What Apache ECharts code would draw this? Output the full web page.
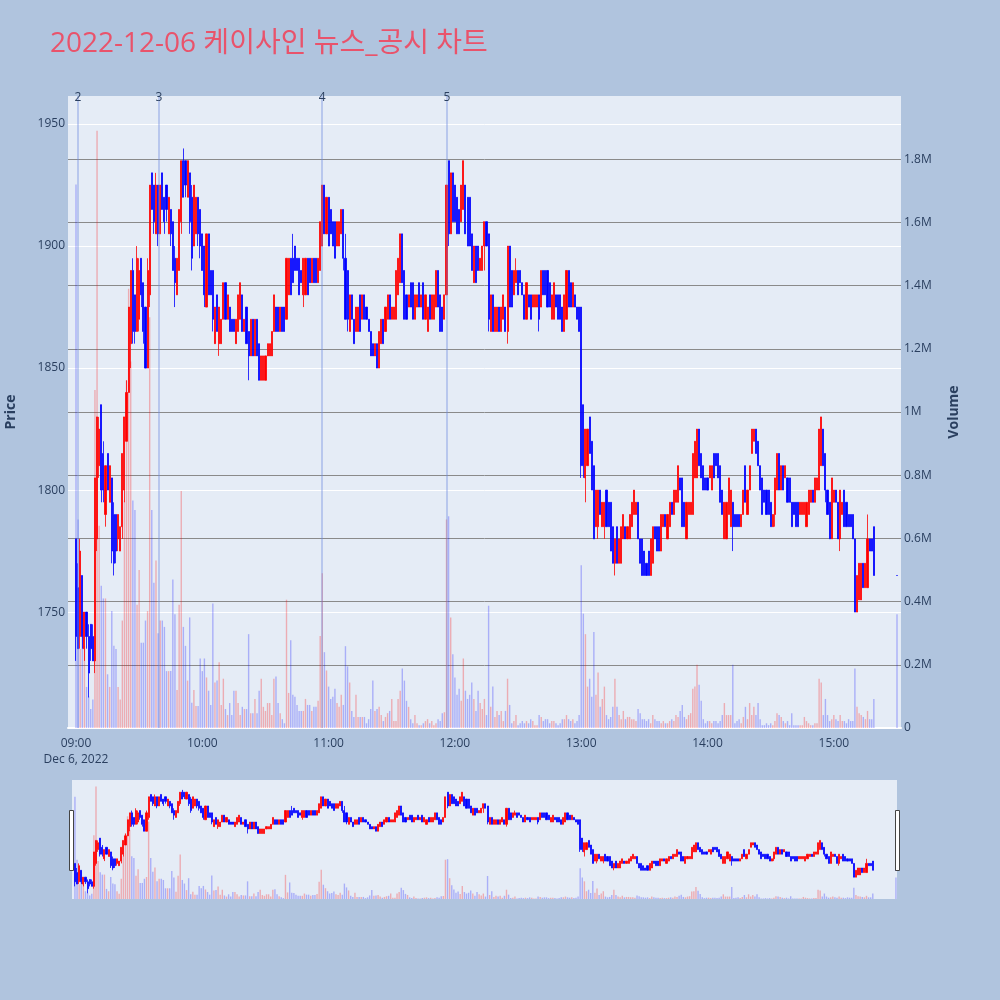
<!DOCTYPE html>
<html><head><meta charset="utf-8">
<script src="https://cdn.jsdelivr.net/npm/echarts@6/dist/echarts.min.js"></script>
<style>html,body{margin:0;padding:0;background:#b0c4de}#c{width:1000px;height:1000px}</style>
</head><body><div id="c"></div>
<script>
const chartTitle = '2022-12-06 케이사인 뉴스_공시 차트';
const dateLabel = 'Dec 6, 2022';
const xTickMinutes = [0, 60, 120, 180, 240, 300, 360];
const xTickLabels = ['09:00', '10:00', '11:00', '12:00', '13:00', '14:00', '15:00'];
const newsLabels = ['2', '3', '4', '5'];
const newsMinutes = [0.95, 39.4, 116.9, 176.2];
// minutes after 09:00 for each candle
const candleMinutes = Array.from({length: 380}, (_, i) => i).concat([390]);
// [open, close, low, high]
const candles = [
[1780,1740,1730,1780],[1760,1735,1735,1770],[1740,1775,1735,1780],[1765,1740,1735,1765],[1735,1750,1730,1750],
[1750,1740,1735,1750],[1740,1725,1715,1745],[1745,1735,1730,1745],[1740,1730,1730,1745],[1730,1805,1725,1805],
[1780,1830,1775,1830],[1810,1825,1805,1830],[1835,1800,1795,1835],[1815,1800,1795,1820],[1790,1810,1785,1810],
[1815,1800,1800,1815],[1795,1810,1795,1810],[1805,1775,1770,1805],[1790,1770,1765,1795],[1790,1775,1770,1790],
[1780,1790,1775,1790],[1775,1785,1775,1785],[1785,1815,1780,1815],[1800,1830,1795,1830],[1820,1840,1820,1845],
[1840,1875,1840,1875],[1860,1890,1850,1890],[1890,1865,1860,1895],[1880,1865,1860,1880],[1865,1895,1865,1900],
[1870,1890,1865,1895],[1895,1880,1875,1895],[1885,1865,1860,1885],[1875,1850,1850,1875],[1850,1890,1850,1895],
[1880,1925,1875,1925],[1930,1915,1915,1930],[1925,1910,1905,1925],[1905,1925,1905,1930],[1925,1905,1900,1925],
[1905,1925,1905,1925],[1930,1915,1915,1930],[1920,1910,1905,1920],[1925,1915,1910,1925],[1905,1920,1905,1920],
[1915,1905,1900,1915],[1910,1890,1890,1910],[1895,1885,1875,1900],[1880,1895,1880,1895],[1890,1915,1890,1915],
[1910,1935,1905,1935],[1935,1920,1920,1940],[1935,1925,1920,1935],[1920,1935,1920,1935],[1930,1910,1905,1930],
[1920,1895,1890,1925],[1900,1925,1900,1925],[1905,1920,1905,1920],[1920,1905,1900,1920],[1915,1900,1895,1915],
[1905,1890,1890,1905],[1900,1880,1875,1900],[1875,1905,1875,1905],[1905,1880,1880,1905],[1890,1880,1880,1890],
[1890,1870,1865,1890],[1860,1875,1860,1875],[1880,1865,1865,1880],[1860,1875,1855,1875],[1860,1870,1860,1870],
[1870,1885,1870,1885],[1885,1870,1870,1885],[1870,1880,1870,1880],[1875,1865,1865,1875],[1870,1865,1865,1870],
[1870,1865,1865,1870],[1860,1870,1860,1870],[1865,1880,1865,1880],[1870,1885,1870,1885],[1880,1865,1865,1880],
[1865,1870,1865,1870],[1875,1860,1860,1875],[1865,1855,1845,1865],[1855,1870,1855,1870],[1870,1855,1855,1870],
[1855,1870,1855,1870],[1870,1855,1855,1870],[1860,1845,1845,1860],[1845,1855,1845,1855],[1845,1855,1845,1855],
[1845,1855,1845,1855],[1855,1860,1855,1860],[1855,1860,1855,1860],[1855,1865,1855,1865],[1865,1880,1865,1880],
[1875,1865,1865,1875],[1875,1865,1865,1875],[1865,1875,1865,1875],[1875,1865,1865,1875],[1875,1865,1865,1875],
[1870,1895,1870,1895],[1880,1895,1880,1895],[1895,1880,1880,1895],[1895,1885,1885,1905],[1900,1890,1890,1900],
[1895,1890,1890,1895],[1895,1880,1880,1895],[1890,1885,1885,1890],[1880,1895,1875,1895],[1880,1895,1880,1895],
[1895,1880,1880,1895],[1895,1885,1885,1895],[1885,1895,1885,1895],[1895,1885,1885,1895],[1895,1885,1885,1895],
[1885,1895,1885,1895],[1890,1910,1890,1910],[1900,1925,1900,1925],[1925,1905,1905,1925],[1905,1920,1905,1920],
[1920,1900,1900,1920],[1915,1905,1905,1915],[1910,1900,1900,1910],[1910,1895,1895,1910],[1900,1910,1900,1910],
[1900,1910,1900,1910],[1905,1915,1905,1915],[1915,1895,1890,1915],[1895,1870,1870,1905],[1890,1870,1865,1890],
[1865,1880,1865,1880],[1880,1870,1870,1880],[1870,1860,1860,1870],[1865,1875,1865,1875],[1865,1875,1865,1875],
[1880,1865,1865,1880],[1870,1880,1870,1880],[1880,1870,1870,1880],[1875,1870,1870,1875],[1870,1865,1865,1870],
[1865,1855,1855,1865],[1860,1855,1855,1860],[1855,1860,1855,1860],[1860,1850,1850,1860],[1850,1865,1850,1865],
[1860,1870,1860,1870],[1870,1860,1860,1870],[1865,1875,1865,1875],[1870,1880,1870,1880],[1880,1870,1870,1880],
[1870,1875,1870,1875],[1870,1875,1870,1875],[1870,1890,1870,1890],[1880,1895,1880,1895],[1885,1905,1885,1905],
[1905,1885,1885,1905],[1890,1870,1870,1890],[1880,1870,1870,1880],[1875,1880,1875,1880],[1885,1875,1875,1885],
[1885,1870,1870,1885],[1870,1880,1870,1880],[1875,1880,1875,1880],[1885,1875,1875,1885],[1875,1880,1875,1880],
[1885,1870,1870,1885],[1870,1880,1870,1880],[1865,1875,1865,1875],[1880,1870,1870,1880],[1870,1880,1870,1880],
[1870,1880,1870,1880],[1875,1890,1875,1890],[1890,1875,1875,1890],[1880,1865,1865,1880],[1875,1865,1865,1875],
[1870,1880,1870,1880],[1880,1925,1880,1925],[1935,1905,1900,1935],[1905,1930,1905,1930],[1930,1910,1910,1930],
[1925,1910,1910,1925],[1920,1905,1905,1920],[1915,1905,1905,1915],[1910,1925,1910,1925],[1915,1935,1915,1935],
[1925,1905,1905,1925],[1920,1900,1900,1920],[1920,1900,1900,1920],[1905,1890,1890,1905],[1885,1900,1885,1900],
[1900,1885,1885,1900],[1900,1890,1890,1900],[1890,1895,1890,1895],[1890,1900,1890,1900],[1900,1910,1890,1910],
[1910,1900,1900,1910],[1905,1870,1865,1905],[1865,1880,1865,1880],[1880,1865,1865,1880],[1865,1875,1865,1875],
[1865,1875,1865,1875],[1875,1865,1865,1875],[1865,1875,1865,1875],[1870,1880,1870,1880],[1875,1865,1865,1875],
[1865,1900,1860,1900],[1900,1875,1875,1900],[1890,1875,1875,1890],[1880,1890,1880,1890],[1885,1890,1885,1895],
[1890,1880,1880,1890],[1890,1885,1885,1890],[1885,1880,1880,1885],[1880,1870,1870,1880],[1870,1885,1870,1885],
[1880,1875,1875,1880],[1880,1870,1870,1880],[1875,1880,1875,1880],[1875,1880,1875,1880],[1875,1880,1875,1880],
[1880,1870,1865,1880],[1875,1890,1875,1890],[1890,1880,1880,1890],[1890,1880,1880,1890],[1890,1875,1875,1890],
[1885,1875,1875,1885],[1870,1880,1870,1880],[1870,1885,1870,1885],[1880,1875,1875,1880],[1880,1870,1870,1880],
[1880,1870,1870,1880],[1875,1865,1865,1875],[1865,1880,1865,1880],[1870,1890,1870,1890],[1890,1875,1875,1890],
[1885,1875,1875,1885],[1875,1885,1875,1885],[1880,1875,1875,1880],[1875,1870,1870,1875],[1875,1865,1865,1875],
[1875,1810,1805,1875],[1835,1810,1805,1835],[1805,1825,1795,1825],[1810,1825,1810,1825],[1830,1815,1815,1830],
[1820,1800,1800,1820],[1810,1780,1780,1810],[1785,1800,1785,1800],[1785,1800,1780,1800],[1800,1790,1790,1800],
[1785,1795,1785,1795],[1785,1795,1780,1795],[1800,1785,1785,1800],[1795,1785,1785,1795],[1795,1775,1775,1795],
[1785,1770,1770,1785],[1770,1780,1765,1780],[1785,1770,1770,1785],[1770,1780,1770,1780],[1770,1785,1770,1785],
[1780,1790,1780,1790],[1785,1780,1780,1785],[1780,1785,1780,1785],[1780,1790,1780,1790],[1785,1795,1785,1795],
[1790,1800,1790,1800],[1790,1795,1790,1795],[1795,1780,1780,1795],[1780,1770,1770,1780],[1780,1765,1765,1780],
[1775,1765,1765,1775],[1770,1765,1765,1770],[1775,1765,1765,1775],[1765,1780,1765,1780],[1770,1785,1770,1785],
[1785,1780,1780,1785],[1785,1775,1775,1785],[1785,1775,1775,1785],[1775,1790,1775,1790],[1785,1790,1785,1790],
[1790,1785,1785,1790],[1780,1790,1780,1790],[1785,1795,1785,1795],[1795,1790,1790,1795],[1790,1800,1790,1800],
[1795,1800,1795,1800],[1795,1810,1795,1810],[1805,1800,1800,1805],[1805,1785,1785,1805],[1795,1785,1785,1795],
[1780,1795,1780,1795],[1790,1795,1790,1795],[1790,1795,1790,1795],[1790,1815,1790,1815],[1805,1820,1805,1820],
[1805,1825,1805,1825],[1825,1810,1810,1825],[1815,1805,1805,1815],[1810,1800,1800,1810],[1805,1800,1800,1805],
[1805,1800,1800,1805],[1805,1810,1805,1810],[1800,1810,1800,1810],[1815,1805,1805,1815],[1815,1810,1810,1815],
[1815,1805,1805,1815],[1810,1795,1795,1810],[1800,1790,1790,1800],[1780,1795,1780,1795],[1780,1795,1780,1795],
[1790,1805,1790,1805],[1785,1800,1785,1800],[1795,1785,1775,1795],[1790,1785,1785,1790],[1790,1785,1785,1790],
[1790,1785,1785,1790],[1785,1790,1785,1790],[1790,1800,1790,1800],[1810,1795,1795,1810],[1790,1800,1790,1800],
[1800,1810,1800,1810],[1815,1825,1815,1825],[1820,1825,1820,1825],[1825,1815,1815,1825],[1820,1810,1810,1820],
[1810,1800,1800,1810],[1805,1790,1790,1805],[1800,1795,1795,1800],[1800,1790,1790,1800],[1800,1790,1790,1800],
[1795,1785,1785,1795],[1785,1790,1785,1790],[1790,1805,1785,1805],[1800,1815,1800,1815],[1815,1800,1800,1815],
[1800,1810,1800,1810],[1810,1800,1800,1810],[1805,1810,1805,1810],[1805,1795,1795,1805],[1805,1795,1795,1805],
[1795,1785,1785,1795],[1795,1790,1790,1795],[1795,1785,1785,1795],[1795,1785,1785,1795],[1790,1795,1790,1795],
[1790,1795,1790,1795],[1790,1795,1790,1795],[1785,1795,1785,1795],[1790,1800,1790,1800],[1795,1800,1795,1800],
[1800,1795,1795,1800],[1795,1805,1795,1805],[1800,1805,1800,1805],[1800,1825,1800,1825],[1810,1830,1810,1830],
[1825,1810,1810,1825],[1815,1800,1795,1815],[1800,1790,1790,1800],[1795,1780,1780,1795],[1780,1805,1780,1805],
[1795,1800,1795,1800],[1800,1795,1795,1800],[1795,1780,1780,1795],[1780,1800,1775,1800],[1790,1795,1790,1795],
[1800,1785,1785,1800],[1795,1785,1785,1795],[1790,1785,1785,1790],[1790,1785,1785,1790],[1790,1780,1780,1790],
[1780,1750,1750,1780],[1750,1765,1750,1765],[1755,1770,1755,1770],[1755,1770,1755,1770],[1770,1760,1760,1770],
[1760,1770,1760,1770],[1760,1780,1760,1790],[1780,1775,1775,1780],[1780,1775,1775,1780],[1785,1765,1765,1785],
[1765,1765,1765,1765]
];
// volume in thousands of shares
const volumesK = [
1720,660,250,360,260,130,100,60,90,1070,1890,640,450,410,410,170,130,370,260,250,
130,90,340,720,1100,1390,1160,720,690,390,500,270,270,340,370,1300,690,460,530,300,
340,340,320,180,180,180,470,360,120,390,750,320,260,150,350,80,120,70,70,220,
180,220,160,118,73,394,144,150,208,73,156,60,41,79,41,118,118,79,41,67,
60,60,297,47,47,92,47,118,156,67,54,79,79,41,156,163,79,47,28,15,
406,111,278,105,99,73,54,54,54,92,73,73,54,67,67,86,291,490,240,182,
131,92,99,124,79,67,105,73,259,195,144,54,35,105,35,35,35,35,15,28,
60,150,54,60,67,41,22,35,47,54,92,22,22,92,118,188,150,86,67,28,
15,41,15,9,9,15,22,28,15,22,9,15,28,22,47,50,660,670,350,233,
160,105,124,86,220,118,92,105,144,92,54,118,79,60,92,41,387,67,131,35,
54,41,54,22,54,156,73,15,22,41,9,15,22,15,22,15,28,22,9,9,
41,35,22,28,28,15,22,22,15,9,15,28,28,41,28,22,28,15,22,41,
515,362,297,131,156,99,304,105,176,67,92,131,41,28,35,67,156,67,41,28,
54,28,35,35,28,28,22,60,47,28,28,22,28,15,41,28,22,22,15,22,
15,15,22,28,22,41,35,54,73,35,28,41,47,124,131,200,137,86,28,15,
22,22,15,22,22,15,22,41,79,41,41,41,200,15,22,28,15,35,67,28,
79,41,67,41,79,28,9,9,15,9,15,9,22,47,41,35,22,15,22,9,
47,9,9,9,9,9,35,22,15,9,9,15,15,156,144,41,92,41,22,28,
41,28,22,41,22,22,15,28,22,22,188,67,47,41,35,28,54,28,28,92,
360
];

const FONT = '"Open Sans", "Noto Sans CJK KR", sans-serif';
const TXT = '#2a3f5f';
const UP = '#ff0000', DOWN = '#0000ff';
const UPVOL = 'rgba(255,0,0,0.27)', DOWNVOL = 'rgba(0,0,255,0.26)';

const candleData = candles.map((c, i) => [candleMinutes[i], c[0], c[1], c[2], c[3]]);
const volData = volumesK.map((v, i) => ({
  value: [candleMinutes[i], v * 1000],
  itemStyle: { color: candles[i][1] > candles[i][0] ? UPVOL : DOWNVOL }
}));

const chart = echarts.init(document.getElementById('c'), null, { renderer: 'canvas' });
const candleStyle = {
  color: UP, color0: DOWN, borderColor: UP, borderColor0: DOWN,
  borderColorDoji: DOWN, borderWidth: 0.8
};
chart.setOption({
  animation: false,
  backgroundColor: '#b0c4de',
  textStyle: { fontFamily: FONT },
  title: {
    text: chartTitle, left: 45, top: 25,
    textStyle: { fontFamily: FONT, fontSize: 28, fontWeight: 'normal', color: '#e9536b' }
  },
  grid: [
    { left: 68, right: 99, top: 96, bottom: 272, show: true, backgroundColor: '#e5ecf6', borderWidth: 0, containLabel: false, outerBoundsMode: 'none' },
    { left: 72, right: 103, top: 780, bottom: 101, show: true, backgroundColor: '#e5ecf6', borderWidth: 0, containLabel: false, outerBoundsMode: 'none' }
  ],
  xAxis: [
    {
      type: 'value', gridIndex: 0, min: -3.8, max: 391.9,
      axisLine: { show: true, lineStyle: { color: '#ffffff', width: 2 } },
      axisTick: { show: false },
      splitLine: { show: false },
      axisLabel: {
        customValues: xTickMinutes,
        color: TXT, fontSize: 12, fontFamily: FONT, margin: 8, lineHeight: 16,
        formatter: v => {
          const k = xTickMinutes.indexOf(Math.round(v));
          if (k < 0) return '';
          return k === 0 ? xTickLabels[k] + '\n' + dateLabel : xTickLabels[k];
        }
      }
    },
    { type: 'value', gridIndex: 1, min: -1.4, max: 390.5, show: false }
  ],
  yAxis: [
    {
      type: 'value', gridIndex: 0, position: 'left', min: 1702.5, max: 1961.5,
      name: 'Price', nameLocation: 'middle', nameGap: 50, nameRotate: 90,
      nameTextStyle: { color: TXT, fontSize: 14, fontWeight: 'bold', fontFamily: FONT },
      axisLine: { show: false }, axisTick: { show: false },
      axisLabel: { color: TXT, fontSize: 12, fontFamily: FONT, margin: 3, showMinLabel: false, showMaxLabel: false,
        formatter: v => String(v) },
      splitLine: { show: true, showMinLine: false, showMaxLine: false, lineStyle: { color: '#ffffff', width: 1 } }
    },
    {
      type: 'value', gridIndex: 0, position: 'right', min: 0, max: 2000000, interval: 200000,
      name: 'Volume', nameLocation: 'middle', nameGap: 46, nameRotate: 90,
      nameTextStyle: { color: TXT, fontSize: 14, fontWeight: 'bold', fontFamily: FONT },
      axisLine: { show: false }, axisTick: { show: false },
      axisLabel: {
        color: TXT, fontSize: 12, fontFamily: FONT, margin: 3, showMaxLabel: false,
        formatter: v => v === 0 ? '0' : (Math.round(v / 1e5) / 10) + 'M'
      },
      splitLine: { show: true, showMinLine: false, showMaxLine: false, lineStyle: { color: '#8a8a8a', width: 1 } }
    },
    { type: 'value', gridIndex: 1, min: 1702.5, max: 1961.5, show: false, splitLine: { show: false } },
    { type: 'value', gridIndex: 1, min: 0, max: 2000000, show: false, splitLine: { show: false } }
  ],
  series: [
    {
      type: 'bar', name: 'volume', xAxisIndex: 0, yAxisIndex: 1, data: volData,
      barWidth: 1.4, z: 1, silent: true,
      markLine: {
        silent: true, symbol: ['none', 'none'], animation: false,
        lineStyle: { color: 'rgba(110,140,225,0.5)', width: 1.5, type: 'solid' },
        label: { show: true, position: 'end', distance: -8, formatter: '{b}', color: TXT, fontSize: 12, fontFamily: FONT },
        data: newsMinutes.map((m, i) => ({ name: newsLabels[i], xAxis: m }))
      }
    },
    {
      type: 'candlestick', name: 'price', xAxisIndex: 0, yAxisIndex: 0, data: candleData,
      barWidth: 1.6, z: 3, silent: true, itemStyle: candleStyle
    },
    {
      type: 'bar', name: 'volume-mini', xAxisIndex: 1, yAxisIndex: 3, data: volData,
      barWidth: 1.4, z: 1, silent: true
    },
    {
      type: 'candlestick', name: 'price-mini', xAxisIndex: 1, yAxisIndex: 2, data: candleData,
      barWidth: 1.6, z: 3, silent: true, itemStyle: candleStyle
    }
  ],
  graphic: [
    { type: 'rect', left: 69, top: 810, shape: { width: 4, height: 60 }, style: { fill: '#ffffff', stroke: '#444444', lineWidth: 1 }, z: 10 },
    { type: 'rect', left: 895, top: 810, shape: { width: 4, height: 60 }, style: { fill: '#ffffff', stroke: '#444444', lineWidth: 1 }, z: 10 }
  ]
});
</script></body></html>
